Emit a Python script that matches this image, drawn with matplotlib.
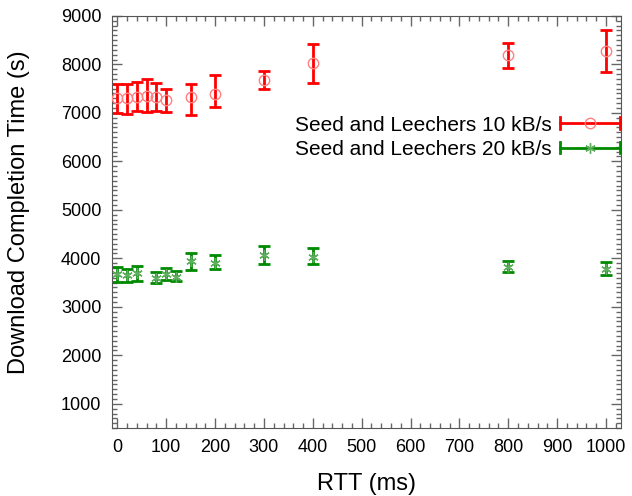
import matplotlib
matplotlib.use("Agg")
import matplotlib.pyplot as plt
from matplotlib.lines import Line2D
from matplotlib.legend_handler import HandlerBase
from matplotlib.ticker import MultipleLocator

plt.rcParams["font.family"] = ["Liberation Sans", "DejaVu Sans"]

# RTT (ms) and download completion time (s)
rtt_10 = [0, 20, 40, 60, 80, 100, 150, 200, 300, 400, 800, 1000]
time_10 = [7310, 7300, 7330, 7350, 7330, 7270, 7320, 7390, 7670, 8020, 8200, 8280]
low_10 = [7000, 6980, 7030, 7020, 7040, 7020, 6960, 7130, 7500, 7620, 7930, 7840]
high_10 = [7590, 7590, 7630, 7690, 7620, 7490, 7600, 7780, 7870, 8410, 8450, 8710]

rtt_20 = [0, 20, 40, 80, 100, 120, 150, 200, 300, 400, 800, 1000]
time_20 = [3680, 3650, 3690, 3600, 3680, 3620, 3950, 3910, 4070, 4030, 3830, 3790]
low_20 = [3520, 3520, 3530, 3490, 3560, 3540, 3760, 3770, 3890, 3880, 3710, 3650]
high_20 = [3820, 3780, 3850, 3710, 3800, 3730, 4120, 4060, 4250, 4220, 3950, 3930]

labels = ["Seed and Leechers 10 kB/s", "Seed and Leechers 20 kB/s"]
bar_colors = ["#ff0000", "#008a00"]
mark_colors = ["#ff8080", "#5fae5f"]
markers = ["o", (6, 2, 0)]


class HandlerHBar(HandlerBase):
    """gnuplot-style key: horizontal bar with end caps and the marker in the middle."""

    def __init__(self, color, mcolor, marker):
        super().__init__()
        self.color, self.mcolor, self.marker = color, mcolor, marker

    def create_artists(self, legend, orig_handle, xdescent, ydescent,
                       width, height, fontsize, trans):
        y = height / 2 - ydescent
        x0, x1 = -xdescent, width - xdescent
        cap = 0.28 * fontsize
        arts = [Line2D([x0, x1], [y, y], color=self.color, lw=2),
                Line2D([x0, x0], [y - cap, y + cap], color=self.color, lw=2),
                Line2D([x1, x1], [y - cap, y + cap], color=self.color, lw=2),
                Line2D([(x0 + x1) / 2], [y], marker=self.marker, ms=7.5,
                       mfc="none", mec=self.mcolor, mew=1, ls="none")]
        for a in arts:
            a.set_transform(trans)
        return arts


fig = plt.figure(figsize=(6.32, 4.96), dpi=100)
ax = fig.add_axes([0.178, 0.137, 0.804, 0.831])

series = [(rtt_10, time_10, low_10, high_10), (rtt_20, time_20, low_20, high_20)]
handles = []
for i, (x, y, lo, hi) in enumerate(series):
    yerr = [[v - l for v, l in zip(y, lo)], [h - v for v, h in zip(y, hi)]]
    ax.errorbar(x, y, yerr=yerr, fmt="none", ecolor=bar_colors[i],
                elinewidth=2, capsize=4.5, capthick=2, zorder=2)
    h, = ax.plot(x, y, ls="none", marker=markers[i], ms=7.5, mfc="none",
                 mec=mark_colors[i], mew=1, zorder=3)
    handles.append(h)

ax.set_xlim(-10, 1030)
ax.set_ylim(500, 9000)
ax.xaxis.set_major_locator(MultipleLocator(100))
ax.xaxis.set_minor_locator(MultipleLocator(20))
ax.yaxis.set_major_locator(MultipleLocator(1000))
ax.yaxis.set_minor_locator(MultipleLocator(100))
ax.tick_params(which="both", direction="in", top=True, right=True,
               color="#666666", labelsize=13)
ax.tick_params(which="major", length=7, width=1, pad=8)
ax.tick_params(which="minor", length=3.5, width=1)
for s in ax.spines.values():
    s.set_color("#555555")

ax.set_xlabel("RTT (ms)", fontsize=17, labelpad=12)
ax.set_ylabel("Download Completion Time (s)", fontsize=17)
ax.yaxis.set_label_coords(-0.163, 0.524)

hmap = {h: HandlerHBar(bar_colors[i], mark_colors[i], markers[i])
        for i, h in enumerate(handles)}
ax.legend(handles, labels, handler_map=hmap, loc="upper right",
          bbox_to_anchor=(0.998, 0.758), frameon=False, markerfirst=False,
          fontsize=15, handlelength=2.85, handletextpad=0.43,
          labelspacing=0.25, borderpad=0, borderaxespad=0)

fig.savefig("out.png", dpi=100)
